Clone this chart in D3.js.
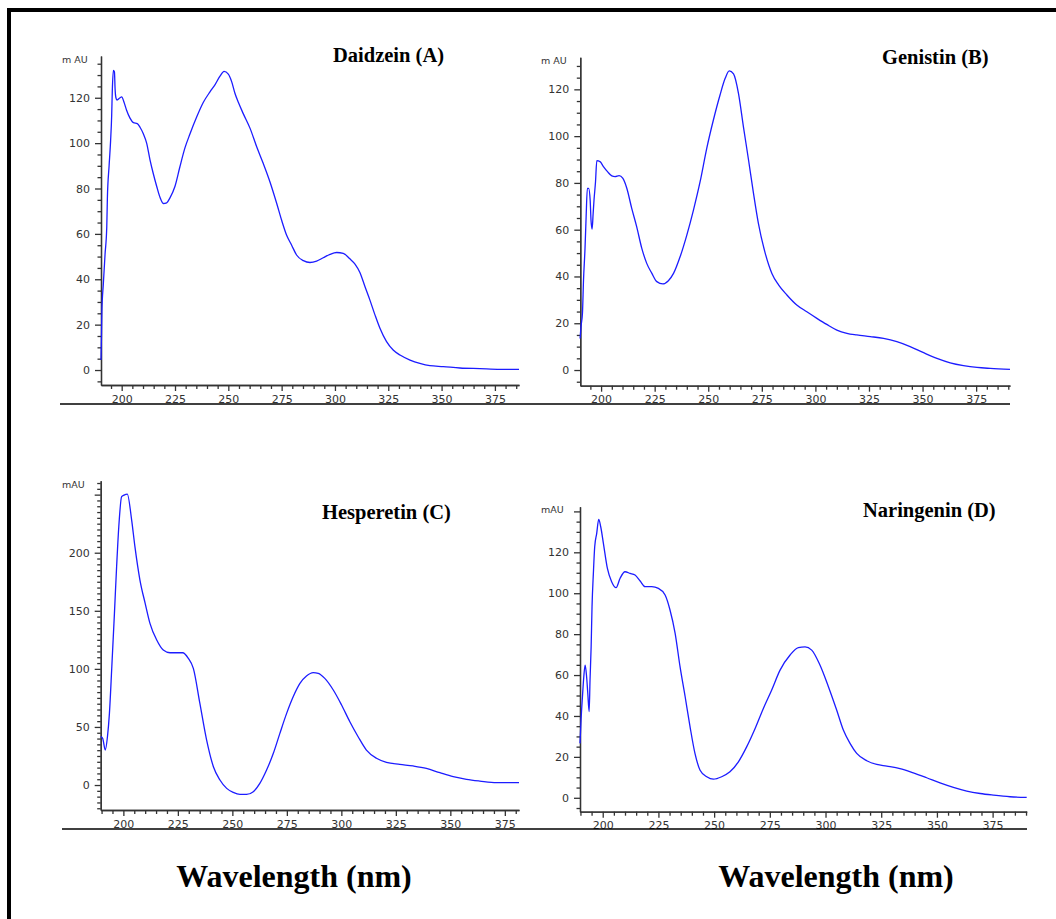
<!DOCTYPE html>
<html>
<head>
<meta charset="utf-8">
<script src="https://cdn.jsdelivr.net/npm/d3@7"></script>
<style>
  body { margin: 0; background: #fff; }
  svg { display: block; }
</style>
</head>
<body>
<div id="chart"></div>
<script>
// UV spectra (wavelength in nm, absorbance in mAU)
const daidzeinNm = [190.3, 190.5, 190.7, 191.4, 192.2, 193.0, 193.3, 194.1, 194.8, 195.3, 195.6, 196.1, 196.6, 196.9, 197.3, 197.8, 199.2, 200.0, 201.1, 202.3, 203.9, 205.5, 207.3, 208.6, 210.2, 211.7, 213.3, 214.8, 216.4, 218.0, 219.5, 221.1, 222.7, 225.0, 227.3, 229.7, 232.0, 235.2, 238.3, 241.4, 243.8, 246.1, 248.0, 250.0, 251.6, 253.1, 254.7, 257.0, 260.2, 263.3, 266.4, 269.5, 272.7, 275.0, 277.3, 279.7, 282.0, 285.2, 288.3, 291.4, 294.5, 297.7, 300.8, 303.9, 307.0, 309.4, 311.7, 314.1, 316.4, 318.8, 321.1, 324.2, 327.3, 330.5, 335.2, 339.8, 344.5, 350.8, 358.6, 368.0, 377.3, 386.3];
const daidzeinAbs = [4.4, 14, 25.7, 38, 51, 63, 76, 90, 101, 112, 123, 132, 131.5, 124, 120, 119, 120, 120.4, 118, 114.5, 111, 109, 108.6, 107, 104, 100, 92.5, 86.6, 81, 76, 73.4, 73.7, 76, 81, 89.6, 98, 104, 111.6, 118, 122.6, 125.8, 129.5, 131.6, 130.4, 127, 122, 118, 113, 106.5, 98.4, 91, 83, 73.4, 66, 59.5, 55, 50.7, 48.2, 47.4, 48, 49.5, 51, 51.8, 51.4, 49, 46.7, 43, 36.7, 30.8, 24.2, 18.4, 12.5, 8.8, 6.6, 4.4, 2.9, 1.9, 1.5, 0.9, 0.6, 0.3, 0.3];

const genistinNm = [190.2, 190.7, 191.3, 191.8, 192.5, 193.0, 193.6, 194.2, 194.9, 195.3, 195.8, 196.3, 196.7, 197.4, 198.0, 199.5, 201.1, 203.0, 205.0, 206.5, 208.4, 210.1, 212.0, 214.3, 216.6, 219.0, 221.3, 223.7, 226.0, 228.8, 231.4, 233.8, 236.9, 240.0, 243.1, 246.2, 249.3, 252.4, 255.5, 257.9, 259.8, 261.8, 264.1, 266.4, 268.8, 271.1, 273.4, 276.6, 279.7, 282.8, 286.7, 291.3, 296.0, 300.7, 305.3, 310.0, 314.7, 319.3, 325.6, 331.8, 338.0, 344.2, 350.5, 356.7, 362.9, 369.1, 375.4, 381.6, 390.8];
const genistinAbs = [13.5, 19.2, 24.2, 38.5, 52, 65, 77.7, 77.7, 72.7, 64, 60.2, 67, 72.7, 80.5, 89.5, 89.1, 87, 84.8, 83, 82.7, 83.1, 82, 77.7, 69.1, 61.3, 52, 45.6, 41.3, 37.8, 36.8, 38.2, 41.3, 48.5, 57.7, 68.4, 80.5, 94.8, 106.9, 117.6, 124.7, 127.9, 126.6, 118.3, 104.1, 89.8, 75.6, 62.7, 49.9, 41.3, 36.4, 32.1, 27.8, 24.9, 22.1, 19.5, 17.1, 15.7, 15.0, 14.3, 13.5, 12.1, 10.0, 7.4, 5.0, 3.1, 1.9, 1.1, 0.7, 0.3];

const hesperetinNm = [189.6, 190.5, 191.7, 192.7, 193.6, 194.7, 195.9, 196.9, 197.9, 199.2, 200.3, 201.8, 203.8, 205.3, 207.6, 210.0, 212.2, 215.3, 218.3, 221.4, 224.4, 227.2, 229.8, 232.1, 235.1, 238.2, 241.3, 244.3, 247.4, 250.4, 253.5, 256.5, 259.6, 262.6, 265.7, 268.8, 271.8, 274.9, 277.9, 281.0, 284.0, 287.1, 289.4, 292.4, 296.3, 300.1, 303.9, 307.7, 311.5, 316.1, 320.7, 326.8, 332.9, 339.0, 345.2, 351.3, 357.4, 363.5, 371.2, 381.5];
const hesperetinAbs = [41.6, 40.2, 30.1, 41.6, 61.7, 101.9, 147.8, 187.9, 222.4, 248.2, 249.6, 250.5, 228.1, 205.2, 176.5, 156.4, 139.2, 124.8, 116.2, 113.9, 113.9, 113.9, 109.0, 100.4, 70.3, 38.7, 15.8, 4.3, -2.9, -6.3, -8.0, -8.0, -5.7, 1.4, 12.9, 27.3, 44.5, 61.7, 76.0, 87.5, 93.8, 96.7, 96.1, 91.8, 81.8, 68.9, 54.5, 41.6, 30.1, 23.0, 19.5, 17.8, 16.4, 14.3, 10.6, 7.2, 4.9, 3.4, 2.0, 2.0];

const naringeninNm = [189.8, 190.3, 190.9, 191.5, 192.1, 192.7, 193.3, 193.9, 194.3, 194.8, 195.2, 195.8, 196.4, 197.3, 198.2, 199.1, 200.3, 202.1, 204.0, 206.0, 207.8, 210.0, 212.3, 214.5, 216.8, 219.0, 222.0, 225.0, 228.0, 230.2, 232.5, 234.7, 237.0, 239.2, 241.4, 243.7, 246.7, 249.7, 253.4, 257.1, 260.9, 264.6, 268.4, 272.1, 275.8, 279.6, 284.1, 287.8, 290.8, 293.8, 297.5, 301.3, 305.0, 308.0, 311.0, 314.0, 318.5, 323.0, 327.5, 333.4, 339.4, 345.4, 351.4, 357.4, 363.4, 369.4, 375.3, 382.8, 390.3];
const naringeninAbs = [26.6, 38.8, 49.4, 59.2, 64.9, 60.0, 51.0, 42.1, 57.5, 73.8, 93.4, 109.7, 122.7, 129.3, 136.1, 132.5, 124.4, 112.1, 105.6, 102.7, 107.3, 110.5, 109.7, 108.9, 106, 103.2, 103.2, 102.4, 99.1, 91.8, 80.4, 64.1, 49.4, 34.7, 21.7, 13.5, 10.3, 9.1, 10.3, 12.7, 17.6, 24.9, 33.9, 43.7, 52.6, 62.4, 69.8, 73.4, 73.8, 72.2, 64.9, 54.3, 42.9, 33.1, 26.6, 21.7, 18.1, 16.3, 15.5, 14.3, 12.2, 9.8, 7.3, 5.1, 3.3, 2.1, 1.3, 0.5, 0.2];

// Tick labels
const xTickLabels = [200, 225, 250, 275, 300, 325, 350, 375];
const yTickLabels = [0, 20, 40, 60, 80, 100, 120];
const yTickLabelsHes = [0, 50, 100, 150, 200];
const panelTitles = ["Daidzein (A)", "Genistin (B)", "Hesperetin (C)", "Naringenin (D)"];
const unitLabels = ["m AU", "m AU", "mAU", "mAU"];
const axisTitle = "Wavelength (nm)";

const width = 1056;
const height = 919;

const svg = d3
  .select("#chart")
  .append("svg")
  .attr("width", width)
  .attr("height", height)
  .attr("viewBox", [0, 0, width, height]);

svg.append("rect").attr("width", width).attr("height", height).attr("fill", "#fff");

// Thick frame on the left and top
svg.append("rect").attr("x", 7).attr("y", 8).attr("width", 4).attr("height", height - 8).attr("fill", "#000");
svg.append("rect").attr("x", 7).attr("y", 8).attr("width", width - 7).attr("height", 4).attr("fill", "#000");

// Panel layout (pixel box of each plot area and its domains)
const panels = [
  { nm: daidzeinNm, abs: daidzeinAbs, xDom: [190.3, 386.3], yDom: [-6.6, 138.4], box: [101, 519, 56, 385], yLabels: yTickLabels, yMajor: 20, title: [333, 62], unit: [62, 63] },
  { nm: genistinNm, abs: genistinAbs, xDom: [190.3, 390.8], yDom: [-6.7, 133.7], box: [580.3, 1010, 57.3, 385.7], yLabels: yTickLabels, yMajor: 20, title: [882, 64], unit: [541, 64] },
  { nm: hesperetinNm, abs: hesperetinAbs, xDom: [189.6, 381.5], yDom: [-21.5, 262], box: [100.7, 519, 480.7, 810], yLabels: yTickLabelsHes, yMajor: 50, title: [322, 519], unit: [62, 488] },
  { nm: naringeninNm, abs: naringeninAbs, xDom: [189.8, 390.3], yDom: [-6.8, 142.3], box: [580, 1026.7, 506.7, 811.7], yLabels: yTickLabels, yMajor: 20, title: [863, 517], unit: [541, 513] },
];

const axisColor = "#333";
const labelFont = "'DejaVu Sans', Arial, sans-serif";

panels.forEach((p, i) => {
  const [left, right, top, bottom] = p.box;
  const x = d3.scaleLinear().domain(p.xDom).range([left, right]);
  const y = d3.scaleLinear().domain(p.yDom).range([bottom, top]);

  const g = svg.append("g");

  // minor ticks every 5 units
  const xMinor = d3.range(Math.ceil(p.xDom[0] / 5) * 5, p.xDom[1], 5).filter((v) => v % 25 !== 0);
  const yMinor = d3.range(Math.ceil(p.yDom[0] / 5) * 5, p.yDom[1], 5).filter((v) => v % p.yMajor !== 0);
  const yMajorAll = d3.range(Math.ceil(p.yDom[0] / p.yMajor) * p.yMajor, p.yDom[1], p.yMajor);

  g.append("g")
    .attr("transform", `translate(0,${bottom})`)
    .call(d3.axisBottom(x).tickValues(xMinor).tickSize(4).tickSizeOuter(0).tickFormat(""));
  g.append("g")
    .attr("transform", `translate(0,${bottom})`)
    .call(d3.axisBottom(x).tickValues(xTickLabels).tickSize(6).tickSizeOuter(0).tickPadding(4));

  g.append("g")
    .attr("transform", `translate(${left},0)`)
    .call(d3.axisLeft(y).tickValues(yMinor).tickSize(3.5).tickSizeOuter(0).tickFormat(""));
  g.append("g")
    .attr("transform", `translate(${left},0)`)
    .call(
      d3.axisLeft(y)
        .tickValues(yMajorAll)
        .tickSize(6)
        .tickSizeOuter(0)
        .tickPadding(5)
        .tickFormat((d) => (p.yLabels.includes(d) ? d : ""))
    );

  g.selectAll(".domain, .tick line").attr("stroke", axisColor).attr("stroke-width", 1.3);
  g.selectAll(".tick text").attr("fill", "#333").attr("font-family", labelFont).attr("font-size", 11);

  // unit label
  g.append("text")
    .attr("x", p.unit[0])
    .attr("y", p.unit[1])
    .attr("font-family", labelFont)
    .attr("font-size", 9.5)
    .attr("fill", "#333")
    .text(unitLabels[i]);

  // spectrum
  const line = d3
    .line()
    .x((d) => x(d[0]))
    .y((d) => y(d[1]))
    .curve(d3.curveMonotoneX);

  g.append("path")
    .datum(d3.zip(p.nm, p.abs))
    .attr("fill", "none")
    .attr("stroke", "#1c1cff")
    .attr("stroke-width", 1.3)
    .attr("d", line);

  // panel title
  g.append("text")
    .attr("x", p.title[0])
    .attr("y", p.title[1])
    .attr("font-family", "'Liberation Serif', 'Times New Roman', serif")
    .attr("font-weight", "bold")
    .attr("font-size", 20.5)
    .attr("fill", "#000")
    .text(panelTitles[i]);
});

// Rule lines under each row of plots
svg.append("line").attr("x1", 60).attr("x2", 1010).attr("y1", 404).attr("y2", 404).attr("stroke", "#000").attr("stroke-width", 1.5);
svg.append("line").attr("x1", 62).attr("x2", 1027).attr("y1", 829).attr("y2", 829).attr("stroke", "#000").attr("stroke-width", 1.5);

// Shared axis titles
[294, 836].forEach((cx) => {
  svg.append("text")
    .attr("x", cx)
    .attr("y", 887)
    .attr("text-anchor", "middle")
    .attr("font-family", "'Liberation Serif', 'Times New Roman', serif")
    .attr("font-weight", "bold")
    .attr("font-size", 32)
    .attr("fill", "#000")
    .text(axisTitle);
});
</script>
</body>
</html>
